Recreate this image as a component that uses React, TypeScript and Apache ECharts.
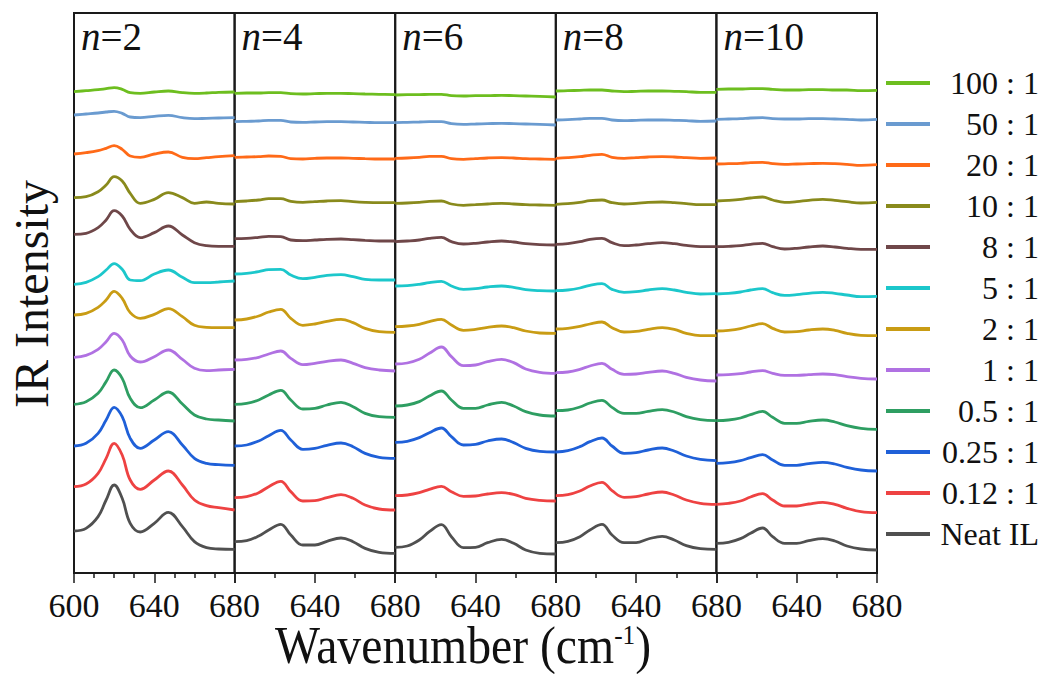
import React, { useEffect, useRef } from "react";
import * as echarts from "echarts";

const FONT = "Liberation Serif, Times New Roman, serif";

const ratios = ["Neat IL", "0.12 : 1", "0.25 : 1", "0.5 : 1", "1 : 1", "2 : 1", "5 : 1", "8 : 1", "10 : 1", "20 : 1", "50 : 1", "100 : 1"];
const colors = ["#505050", "#EE4242", "#1F60D8", "#2E9E62", "#B071E2", "#C99C14", "#1CC7CB", "#6F4749", "#898A1C", "#FF6A18", "#6A9BD0", "#6DBE1F"];
const panelLabels = ["2", "4", "6", "8", "10"];
const xTickLabels = ["600", "640", "680"];

const wavenumbersN2 = [600, 606, 612, 616, 620, 624, 628, 633, 640, 647, 654, 660, 666, 672, 680];
const wavenumbersOther = [600, 606, 612, 617, 623, 628, 634, 640, 646, 653, 659, 665, 672, 680];

// IR intensity (a.u., offset-stacked), rows follow `ratios`
const panelN2 = [
  [126, 134, 169, 219, 264, 224, 149, 123, 149, 182, 139, 94, 76, 72, 71],
  [259, 267, 299, 344, 389, 354, 279, 251, 279, 306, 264, 219, 202, 196, 189],
  [381, 389, 419, 459, 497, 469, 404, 374, 399, 424, 384, 344, 329, 325, 323],
  [506, 514, 539, 574, 609, 584, 524, 496, 519, 543, 507, 474, 462, 459, 456],
  [647, 653, 671, 694, 719, 699, 651, 633, 649, 669, 641, 614, 607, 609, 611],
  [774, 779, 797, 819, 845, 824, 781, 764, 776, 793, 769, 743, 737, 736, 736],
  [866, 872, 889, 909, 928, 911, 879, 877, 897, 909, 887, 871, 871, 873, 876],
  [1016, 1019, 1036, 1059, 1087, 1071, 1031, 1006, 1021, 1041, 1014, 991, 982, 980, 980],
  [1126, 1129, 1144, 1164, 1189, 1176, 1139, 1109, 1121, 1141, 1126, 1109, 1113, 1109, 1107],
  [1257, 1261, 1267, 1274, 1282, 1271, 1251, 1247, 1257, 1263, 1247, 1243, 1246, 1249, 1252],
  [1374, 1377, 1380, 1383, 1385, 1379, 1368, 1366, 1370, 1373, 1366, 1363, 1364, 1365, 1366],
  [1444, 1447, 1450, 1453, 1456, 1451, 1441, 1439, 1443, 1446, 1441, 1439, 1440, 1442, 1443],
];

const panelN4 = [
  [94, 97, 111, 129, 146, 114, 84, 84, 95, 105, 94, 74, 62, 59],
  [226, 229, 241, 259, 275, 244, 216, 217, 226, 235, 224, 204, 192, 189],
  [381, 384, 396, 412, 428, 399, 371, 374, 383, 390, 379, 359, 347, 344],
  [506, 509, 519, 534, 548, 519, 492, 494, 504, 512, 499, 479, 469, 467],
  [639, 641, 647, 657, 666, 644, 625, 629, 635, 639, 629, 616, 609, 606],
  [759, 762, 771, 783, 791, 764, 743, 747, 755, 761, 751, 734, 724, 722],
  [897, 899, 904, 910, 911, 894, 883, 887, 893, 895, 889, 881, 879, 879],
  [1003, 1004, 1007, 1010, 1009, 999, 997, 999, 1001, 1002, 1000, 998, 996, 996],
  [1114, 1116, 1119, 1123, 1123, 1115, 1112, 1114, 1116, 1117, 1114, 1112, 1111, 1111],
  [1247, 1248, 1249, 1251, 1250, 1243, 1242, 1244, 1245, 1245, 1244, 1243, 1242, 1242],
  [1354, 1355, 1356, 1358, 1358, 1353, 1352, 1353, 1354, 1354, 1353, 1352, 1351, 1351],
  [1439, 1440, 1440, 1441, 1441, 1438, 1437, 1438, 1439, 1439, 1438, 1437, 1436, 1435],
];

const panelN6 = [
  [77, 81, 99, 124, 145, 109, 76, 77, 91, 101, 89, 69, 59, 57],
  [232, 234, 241, 251, 260, 244, 230, 231, 237, 241, 236, 224, 218, 216],
  [392, 395, 406, 421, 435, 409, 384, 386, 396, 402, 391, 374, 365, 363],
  [501, 504, 514, 531, 546, 519, 494, 494, 504, 512, 501, 484, 474, 471],
  [627, 630, 641, 659, 678, 649, 622, 624, 634, 641, 631, 612, 602, 599],
  [739, 741, 746, 754, 761, 744, 728, 731, 737, 741, 736, 726, 720, 719],
  [861, 862, 866, 871, 875, 861, 851, 853, 858, 861, 857, 850, 847, 846],
  [994, 996, 999, 1004, 1007, 994, 987, 989, 993, 996, 993, 988, 985, 984],
  [1109, 1110, 1112, 1115, 1116, 1107, 1103, 1105, 1107, 1109, 1107, 1105, 1104, 1103],
  [1244, 1245, 1247, 1250, 1250, 1243, 1241, 1243, 1245, 1246, 1245, 1243, 1242, 1241],
  [1351, 1352, 1353, 1354, 1354, 1348, 1346, 1347, 1348, 1349, 1348, 1347, 1346, 1344],
  [1434, 1435, 1435, 1436, 1436, 1432, 1431, 1432, 1432, 1433, 1432, 1431, 1430, 1428],
];

const panelN8 = [
  [91, 95, 109, 129, 146, 114, 91, 91, 102, 110, 99, 82, 73, 71],
  [232, 235, 246, 261, 272, 247, 227, 229, 237, 243, 234, 219, 209, 206],
  [363, 367, 379, 394, 405, 381, 359, 361, 369, 375, 366, 351, 341, 337],
  [487, 489, 498, 510, 518, 497, 479, 479, 485, 490, 483, 469, 460, 457],
  [601, 603, 611, 621, 629, 611, 596, 597, 602, 606, 599, 587, 579, 576],
  [732, 734, 740, 747, 753, 736, 723, 725, 731, 736, 731, 719, 712, 712],
  [847, 849, 855, 863, 868, 851, 842, 844, 849, 853, 849, 842, 837, 838],
  [986, 988, 994, 1001, 1004, 991, 982, 984, 988, 991, 988, 983, 979, 979],
  [1106, 1108, 1112, 1117, 1119, 1111, 1107, 1109, 1112, 1113, 1111, 1108, 1105, 1105],
  [1244, 1246, 1249, 1253, 1256, 1247, 1244, 1246, 1248, 1249, 1248, 1246, 1244, 1245],
  [1359, 1360, 1362, 1364, 1364, 1359, 1357, 1358, 1359, 1359, 1358, 1357, 1355, 1356],
  [1446, 1447, 1448, 1449, 1449, 1446, 1444, 1445, 1446, 1446, 1445, 1444, 1442, 1442],
];

const panelN10 = [
  [89, 92, 103, 119, 135, 109, 89, 89, 97, 103, 96, 81, 72, 69],
  [206, 209, 216, 228, 238, 219, 201, 201, 207, 212, 206, 194, 184, 181],
  [329, 331, 337, 346, 355, 339, 323, 323, 328, 332, 327, 317, 309, 306],
  [457, 459, 465, 475, 485, 467, 449, 449, 455, 459, 453, 442, 434, 431],
  [594, 595, 598, 603, 607, 599, 593, 593, 595, 597, 595, 589, 584, 582],
  [726, 728, 733, 741, 748, 734, 723, 724, 729, 732, 728, 719, 713, 712],
  [837, 839, 843, 849, 853, 841, 833, 835, 839, 842, 839, 834, 829, 830],
  [979, 980, 982, 986, 989, 979, 972, 974, 978, 981, 978, 974, 971, 971],
  [1116, 1118, 1121, 1125, 1128, 1119, 1112, 1114, 1118, 1121, 1118, 1114, 1110, 1112],
  [1227, 1228, 1229, 1231, 1232, 1228, 1226, 1227, 1228, 1229, 1228, 1226, 1223, 1225],
  [1361, 1362, 1363, 1365, 1366, 1363, 1362, 1362, 1363, 1363, 1362, 1361, 1359, 1361],
  [1451, 1452, 1452, 1453, 1453, 1451, 1449, 1449, 1450, 1450, 1449, 1449, 1447, 1448],
];

const panels = [panelN2, panelN4, panelN6, panelN8, panelN10];
const panelX = [wavenumbersN2, wavenumbersOther, wavenumbersOther, wavenumbersOther, wavenumbersOther];

const PLOT_LEFT = 74;
const PANEL_W = 160.6;
const PLOT_TOP = 13;
const PLOT_H = 560;
const FRAME = "#1a1a1a";
const INK = "#111";

function buildOption() {
  const grid = panels.map((_, i) => ({
    left: PLOT_LEFT + i * PANEL_W,
    top: PLOT_TOP,
    width: PANEL_W,
    height: PLOT_H,
    show: true,
    borderColor: FRAME,
    borderWidth: 2,
    backgroundColor: "transparent",
    containLabel: false,
  }));
  const xAxis = panels.map((_, i) => ({
    type: "value",
    gridIndex: i,
    min: Number(xTickLabels[0]),
    max: Number(xTickLabels[2]),
    interval: Number(xTickLabels[1]) - Number(xTickLabels[0]),
    axisLine: { show: true, lineStyle: { color: FRAME, width: 2 } },
    axisTick: { show: true, inside: false, length: 10, lineStyle: { color: FRAME, width: 1.5 } },
    minorTick: { show: true, splitNumber: i === 0 ? 4 : 2, length: 5, lineStyle: { color: FRAME, width: 1.5 } },
    splitLine: { show: false },
    minorSplitLine: { show: false },
    axisLabel: {
      show: true,
      fontSize: 34,
      fontFamily: FONT,
      fontWeight: "normal",
      color: INK,
      margin: 15,
      showMinLabel: i === 0,
      showMaxLabel: true,
    },
  }));
  const yAxis = panels.map((_, i) => ({
    type: "value",
    gridIndex: i,
    min: 0,
    max: 1680,
    show: false,
  }));
  const series: any[] = [];
  panels.forEach((rows, p) => {
    rows.forEach((vals, r) => {
      series.push({
        type: "line",
        name: ratios[r],
        xAxisIndex: p,
        yAxisIndex: p,
        data: panelX[p].map((x, k) => [x, vals[k]]),
        smooth: 0.4,
        showSymbol: false,
        symbol: "none",
        color: colors[r],
        lineStyle: { width: 2.8, color: colors[r] },
        silent: true,
      });
    });
  });
  const title = panelLabels.map((lab, i) => ({
    text: `{it|n}{rg|=${lab}}`,
    left: PLOT_LEFT + i * PANEL_W + 7,
    top: 17,
    padding: 0,
    textStyle: {
      fontFamily: FONT,
      fontWeight: "normal",
      fontSize: 39,
      color: INK,
      rich: {
        it: { fontFamily: FONT, fontStyle: "italic", fontWeight: "normal", fontSize: 39, color: INK },
        rg: { fontFamily: FONT, fontWeight: "normal", fontSize: 39, color: INK },
      },
    },
  }));
  return {
    animation: false,
    backgroundColor: "#fff",
    title,
    grid,
    xAxis,
    yAxis,
    legend: {
      orient: "vertical",
      left: 886,
      top: 67,
      itemWidth: 44,
      itemHeight: 4,
      itemGap: 9,
      icon: "rect",
      padding: 0,
      selectedMode: false,
      data: [...ratios].reverse(),
      formatter: (name: string) => `{r|${name}}`,
      textStyle: {
        color: INK,
        fontFamily: FONT,
        fontSize: 32,
        rich: {
          r: { width: 104, align: "right", fontSize: 32, lineHeight: 32, fontFamily: FONT, color: INK },
        },
      },
    },
    graphic: [
      {
        type: "text",
        x: 31,
        y: 294,
        rotation: Math.PI / 2,
        style: {
          text: "IR Intensity",
          fontFamily: FONT,
          fontSize: 48,
          fill: INK,
          align: "center",
          verticalAlign: "middle",
        },
      },
      {
        type: "text",
        x: 463,
        y: 645,
        scaleX: 0.9,
        style: {
          text: "Wavenumber (cm{s|-1})",
          fontFamily: FONT,
          fontSize: 53,
          lineHeight: 48,
          fill: INK,
          align: "center",
          verticalAlign: "middle",
          rich: {
            s: { fontFamily: FONT, fontSize: 28, lineHeight: 28, fill: INK, verticalAlign: "top" },
          },
        },
      },
    ],
    series,
  };
}

export default function App() {
  const ref = useRef<HTMLDivElement>(null);
  useEffect(() => {
    if (!ref.current) return;
    const chart = echarts.init(ref.current, undefined, { renderer: "svg" });
    chart.setOption(buildOption() as any);
    return () => chart.dispose();
  }, []);
  return (
    <div
      ref={ref}
      style={{ position: "fixed", left: 0, top: 0, width: 1047, height: 674, background: "#fff" }}
    />
  );
}
